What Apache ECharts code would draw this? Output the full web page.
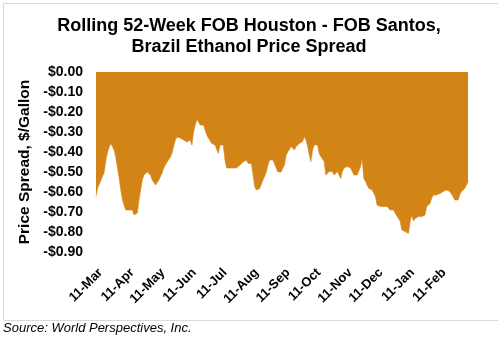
<!DOCTYPE html>
<html>
<head>
<meta charset="utf-8">
<script src="https://cdn.jsdelivr.net/npm/echarts@6/dist/echarts.min.js"></script>
<style>
html,body{margin:0;padding:0;background:#fff;}
#c{width:498px;height:337px;}
</style>
</head>
<body>
<div id="c"></div>
<script>
// Rolling 52-week spread, $/gallon, evenly spaced observations from 11-Mar to 11-Mar
const spreadMarMay = [-0.62,-0.58,-0.56,-0.54,-0.52,-0.50,-0.44,-0.40,-0.375,-0.357,-0.357,-0.39,-0.43,-0.48,-0.53,-0.59,-0.64,-0.665,-0.69,-0.68,-0.69,-0.70,-0.69,-0.715,-0.715,-0.705,-0.64,-0.59,-0.54,-0.515,-0.515,-0.50,-0.49,-0.515,-0.54,-0.55,-0.565,-0.555,-0.54,-0.53,-0.505,-0.48,-0.47,-0.45,-0.44,-0.425,-0.405,-0.37,-0.34,-0.325,-0.315,-0.33,-0.325,-0.34,-0.33,-0.35,-0.35];
const spreadJunAug = [-0.34,-0.365,-0.30,-0.265,-0.237,-0.25,-0.265,-0.27,-0.265,-0.27,-0.315,-0.33,-0.34,-0.357,-0.357,-0.365,-0.373,-0.407,-0.365,-0.36,-0.365,-0.44,-0.48,-0.49,-0.48,-0.473,-0.48,-0.49,-0.48,-0.473,-0.465,-0.465,-0.45,-0.45,-0.44,-0.457,-0.457,-0.457,-0.457,-0.573,-0.59,-0.582,-0.582,-0.582,-0.54,-0.523,-0.50,-0.465,-0.44,-0.44,-0.44,-0.44,-0.48,-0.50,-0.50,-0.50,-0.48];
const spreadSepNov = [-0.465,-0.415,-0.40,-0.39,-0.373,-0.38,-0.39,-0.373,-0.373,-0.357,-0.357,-0.348,-0.323,-0.34,-0.373,-0.415,-0.448,-0.39,-0.365,-0.373,-0.365,-0.407,-0.423,-0.432,-0.448,-0.515,-0.515,-0.498,-0.49,-0.498,-0.515,-0.523,-0.498,-0.498,-0.532,-0.498,-0.48,-0.473,-0.473,-0.473,-0.48,-0.48,-0.515,-0.523,-0.515,-0.507,-0.473,-0.432,-0.532,-0.548,-0.565,-0.582,-0.59,-0.59,-0.598,-0.623,-0.665];
const spreadDecMar = [-0.665,-0.673,-0.67,-0.673,-0.673,-0.673,-0.682,-0.69,-0.69,-0.69,-0.707,-0.715,-0.732,-0.748,-0.79,-0.798,-0.798,-0.807,-0.807,-0.748,-0.715,-0.745,-0.732,-0.723,-0.723,-0.72,-0.723,-0.723,-0.715,-0.673,-0.665,-0.657,-0.632,-0.615,-0.615,-0.615,-0.607,-0.607,-0.598,-0.598,-0.598,-0.59,-0.582,-0.598,-0.607,-0.623,-0.64,-0.648,-0.64,-0.615,-0.598,-0.59,-0.582,-0.565,-0.548];
const tickLabels = ['11-Mar','11-Apr','11-May','11-Jun','11-Jul','11-Aug','11-Sep','11-Oct','11-Nov','11-Dec','11-Jan','11-Feb'];
const titleLines = ['Rolling 52-Week FOB Houston - FOB Santos,','Brazil Ethanol Price Spread'];
const yName = 'Price Spread, $/Gallon';
const sourceText = 'Source: World Perspectives, Inc.';

const DAY = 86400000;
const spread = spreadMarMay.concat(spreadJunAug, spreadSepNov, spreadDecMar);
const startT = Date.UTC(2018, 2, 11);
const endT = Date.UTC(2019, 2, 11);
const stepT = (endT - startT) / (spread.length - 1);
const seriesData = spread.map((v, i) => [(startT + i * stepT) / DAY, v]);
const tickDays = tickLabels.map((s, i) => Date.UTC(2018, 2 + i, 11) / DAY);
const minDay = startT / DAY, maxDay = endT / DAY;

const chart = echarts.init(document.getElementById('c'), null, {renderer: 'canvas'});
const font = 'Arial, "Liberation Sans", sans-serif';
const orange = '#D38417';

chart.setOption({
  backgroundColor: '#fff',
  animation: false,
  title: {
    text: titleLines.join('\n'),
    left: 'center',
    top: 11,
    textStyle: {fontFamily: font, fontSize: 18, fontWeight: 'bold', color: '#000', lineHeight: 21}
  },
  grid: {left: 96, right: 30, top: 72, bottom: 85, containLabel: false},
  xAxis: [
    {
      type: 'value', position: 'top', min: minDay, max: maxDay,
      axisLine: {show: true, onZero: false, lineStyle: {color: '#d0d0d0', width: 1}},
      axisTick: {show: true, inside: true, length: 4, lineStyle: {color: '#d0d0d0'}, customValues: tickDays},
      axisLabel: {show: false, customValues: tickDays},
      splitLine: {show: false}
    },
    {
      type: 'value', position: 'bottom', min: minDay, max: maxDay,
      axisLine: {show: false, onZero: false},
      axisTick: {show: false},
      splitLine: {show: false},
      axisLabel: {
        show: true, rotate: 45, margin: 14, verticalAlign: 'top',
        fontFamily: font, fontSize: 13, fontWeight: 'bold', color: '#000',
        customValues: tickDays,
        formatter: function (val) {
          const idx = tickDays.indexOf(val);
          return idx >= 0 ? tickLabels[idx] : '';
        }
      }
    }
  ],
  yAxis: {
    type: 'value', min: -0.9, max: 0, interval: 0.1,
    name: yName, nameLocation: 'middle', nameGap: 56,
    nameTextStyle: {fontFamily: font, fontSize: 15.5, fontWeight: 'bold', color: '#000'},
    axisLine: {show: false}, axisTick: {show: false}, splitLine: {show: false},
    axisLabel: {
      margin: 13, fontFamily: font, fontSize: 14, fontWeight: 'bold', color: '#000',
      formatter: function (v) {
        const r = Math.round(v * 100) / 100;
        return (r < 0 ? '-' : '') + '$' + Math.abs(r).toFixed(2);
      }
    }
  },
  series: [{
    type: 'line', xAxisIndex: 0, data: seriesData,
    showSymbol: false, symbol: 'none',
    lineStyle: {color: orange, width: 0.6},
    areaStyle: {color: orange, opacity: 1, origin: 'auto'},
    z: 1
  }],
  graphic: [
    {type: 'rect', left: 1, top: 1, shape: {width: 495, height: 317}, style: {fill: 'none', stroke: '#d9d9d9', lineWidth: 1}, silent: true},
    {type: 'text', left: 3, top: 322, style: {text: sourceText, font: 'italic 13px Arial, "Liberation Sans", sans-serif', fill: '#000'}}
  ]
});
</script>
</body>
</html>
